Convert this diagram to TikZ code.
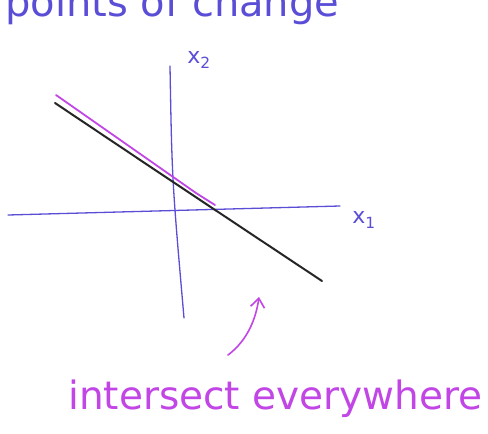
\documentclass[tikz,border=0pt]{standalone}
\usepackage{fontspec}
\setmainfont{DejaVu Sans}
\usetikzlibrary{arrows.meta}
\definecolor{pen}{HTML}{5B4ED6}
\definecolor{mag}{HTML}{C245E6}
\definecolor{ink}{HTML}{262626}
\tikzset{
  axis/.style={draw=pen, line width=1.3pt, line cap=round},
  blackline/.style={draw=ink, line width=2pt, line cap=round},
  magline/.style={draw=mag, line width=1.8pt, line cap=round},
  lab/.style={text=pen, font=\fontsize{22}{24}\selectfont, inner sep=0pt},
  note/.style={text=mag, font=\fontsize{39}{42}\selectfont, inner sep=0pt, anchor=base west},
  topnote/.style={text=pen, font=\fontsize{40}{42}\selectfont, inner sep=0pt, anchor=base west}
}
\begin{document}
\begin{tikzpicture}[x=1pt,y=-1pt]
\useasboundingbox (0,0) rectangle (488,434);
\clip (0,0) rectangle (488,434);
\fill[white] (0,0) rectangle (488,434);
% top text (cut off at the top edge, as in the reference)
\node[topnote] (top) at (5,16) {points of change};
% axes
\coordinate (x2top) at (170,66);
\coordinate (x2bot) at (184,318);
\coordinate (x1l) at (8,215);
\coordinate (x1r) at (340,206);
\draw[axis] (x2top) .. controls (172,180) .. (x2bot);
\draw[axis] (x1l) -- (x1r);
\node[lab] (lx2) at (199,60) {x\textsubscript{2}};
\node[lab] (lx1) at (364,220) {x\textsubscript{1}};
% lines
\coordinate (ma) at (56,95);
\coordinate (mb) at (196,193);
\coordinate (mc) at (215,205);
\coordinate (ba) at (55,103);
\coordinate (bb) at (322,281);
\draw[magline] (ma) -- (mb) -- (mc);
\draw[blackline] (ba) .. controls (170,180) .. (bb);
% arrow
\coordinate (at) at (228,355);
\coordinate (ah) at (259,297);
\draw[draw=mag, line width=1.6pt, line cap=round, -{Straight Barb[length=9pt,width=14pt]}] (at) .. controls (248,340) and (256,318) .. (ah);
% bottom text
\node[note] (nt) at (68,409) {intersect everywhere};
\end{tikzpicture}
\end{document}
